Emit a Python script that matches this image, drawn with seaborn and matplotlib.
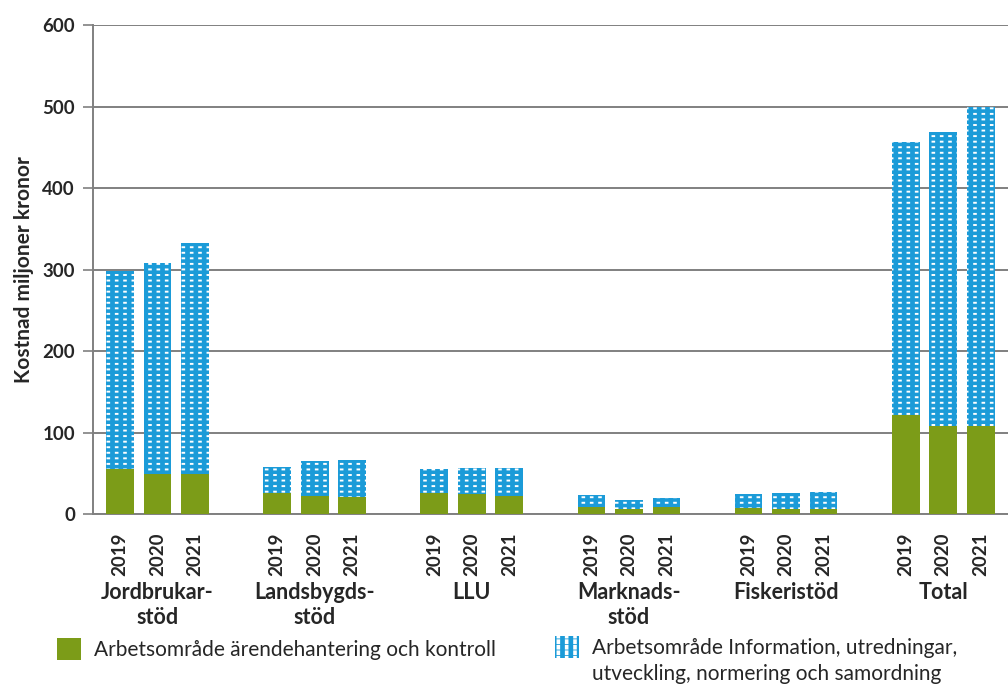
import matplotlib
matplotlib.use("Agg")
import matplotlib.pyplot as plt
import seaborn as sns
import numpy as np
from matplotlib.patches import Patch

# Data (miljoner kronor)
groups = ["Jordbrukar-\nstöd", "Landsbygds-\nstöd", "LLU", "Marknads-\nstöd", "Fiskeristöd", "Total"]
years = ["2019", "2020", "2021"]
kontroll = [55, 49, 49, 26, 22, 21, 26, 25, 22, 8, 6, 8, 7, 6, 6, 121, 108, 108]
information = [243, 259, 284, 32, 43, 45, 29, 31, 34, 15, 11, 12, 17, 20, 21, 335, 361, 391]

label_kontroll = "Arbetsområde ärendehantering och kontroll"
label_info_1 = "Arbetsområde Information, utredningar,"
label_info_2 = "utveckling, normering och samordning"

green = "#7c9c18"
blue = "#1b9bd8"
grey = "#808080"

sns.set_theme(style="white")
plt.rcParams["font.family"] = ["Lato", "DejaVu Sans"]

# bar positions: three bars per group, wider gap between groups
pos = np.array([g * 4.19 + i for g in range(len(groups)) for i in range(len(years))])
total = np.array(kontroll) + np.array(information)

fig = plt.figure(figsize=(10.08, 6.87), dpi=100)
ax = fig.add_axes([0.0923, 0.2518, 0.9077, 0.7118])

# blue bars with white horizontal hatch, broken up by blue vertical hatch
plt.rcParams["hatch.linewidth"] = 1.4
sns.barplot(x=pos, y=total, native_scale=True, width=0.74, color=blue, saturation=1,
            edgecolor="white", linewidth=0, hatch="---", ax=ax, zorder=3)
plt.rcParams["hatch.linewidth"] = 3.4
n_before = len(ax.patches)
sns.barplot(x=pos, y=total, native_scale=True, width=0.74, color=blue, saturation=1,
            linewidth=0, hatch="||", ax=ax, zorder=3.5)
for p in ax.patches[n_before:]:
    p.set_facecolor("none")
    p.set_edgecolor(blue)
    p.set_linewidth(0)
sns.barplot(x=pos, y=kontroll, native_scale=True, width=0.74, color=green, saturation=1,
            linewidth=0, ax=ax, zorder=4)

ax.set_xlim(-0.72, 23.68)
ax.set_ylim(0, 600)
ax.set_yticks(range(0, 700, 100))
ax.yaxis.grid(True, color=grey, linewidth=1.4, zorder=0)
ax.set_axisbelow(True)

for s in ["top", "right"]:
    ax.spines[s].set_visible(False)
ax.spines["left"].set_color(grey)
ax.spines["left"].set_linewidth(1.4)
ax.spines["bottom"].set_color(grey)
ax.spines["bottom"].set_linewidth(1.4)

ax.tick_params(axis="y", which="major", direction="out", length=7, width=1.2, color=grey,
               left=True, labelsize=13.5, pad=6)
ax.set_xticks(pos)
ax.set_xticklabels(years * len(groups), rotation=90, fontsize=13.5, fontweight="bold")
ax.tick_params(axis="x", bottom=False, pad=7)
for lab in ax.get_yticklabels():
    lab.set_fontweight("bold")

ax.set_ylabel("Kostnad miljoner kronor", fontsize=15, fontweight="bold", labelpad=6)
ax.set_xlabel("")

# group labels under the year ticks
for g, name in enumerate(groups):
    ax.text(g * 4.19 + 1, -0.14, name, transform=ax.get_xaxis_transform(),
            ha="center", va="top", fontsize=15.5, fontweight="bold", linespacing=1.2)

plt.rcParams["hatch.linewidth"] = 1.4
h1 = Patch(facecolor=green, edgecolor="none")
h2a = Patch(facecolor=blue, edgecolor="white", hatch="---", linewidth=0)
plt.rcParams["hatch.linewidth"] = 3.4
h2b = Patch(facecolor="none", edgecolor=blue, hatch="||", linewidth=0)

leg_kw = dict(loc="upper left", frameon=False, fontsize=15, handlelength=1.15,
              handleheight=1.25, handletextpad=0.6, borderaxespad=0, borderpad=0)
leg1 = fig.legend([h1], [label_kontroll], bbox_to_anchor=(0.057, 0.071), **leg_kw)
leg2 = fig.legend([(h2a, h2b)], [label_info_1], bbox_to_anchor=(0.551, 0.074), **leg_kw)

fig.canvas.draw()
bb = leg2.get_texts()[0].get_window_extent().transformed(fig.transFigure.inverted())
fig.text(bb.x0, bb.y0 - 0.008, label_info_2, ha="left", va="top", fontsize=15)

fig.savefig("out.png", dpi=100)
